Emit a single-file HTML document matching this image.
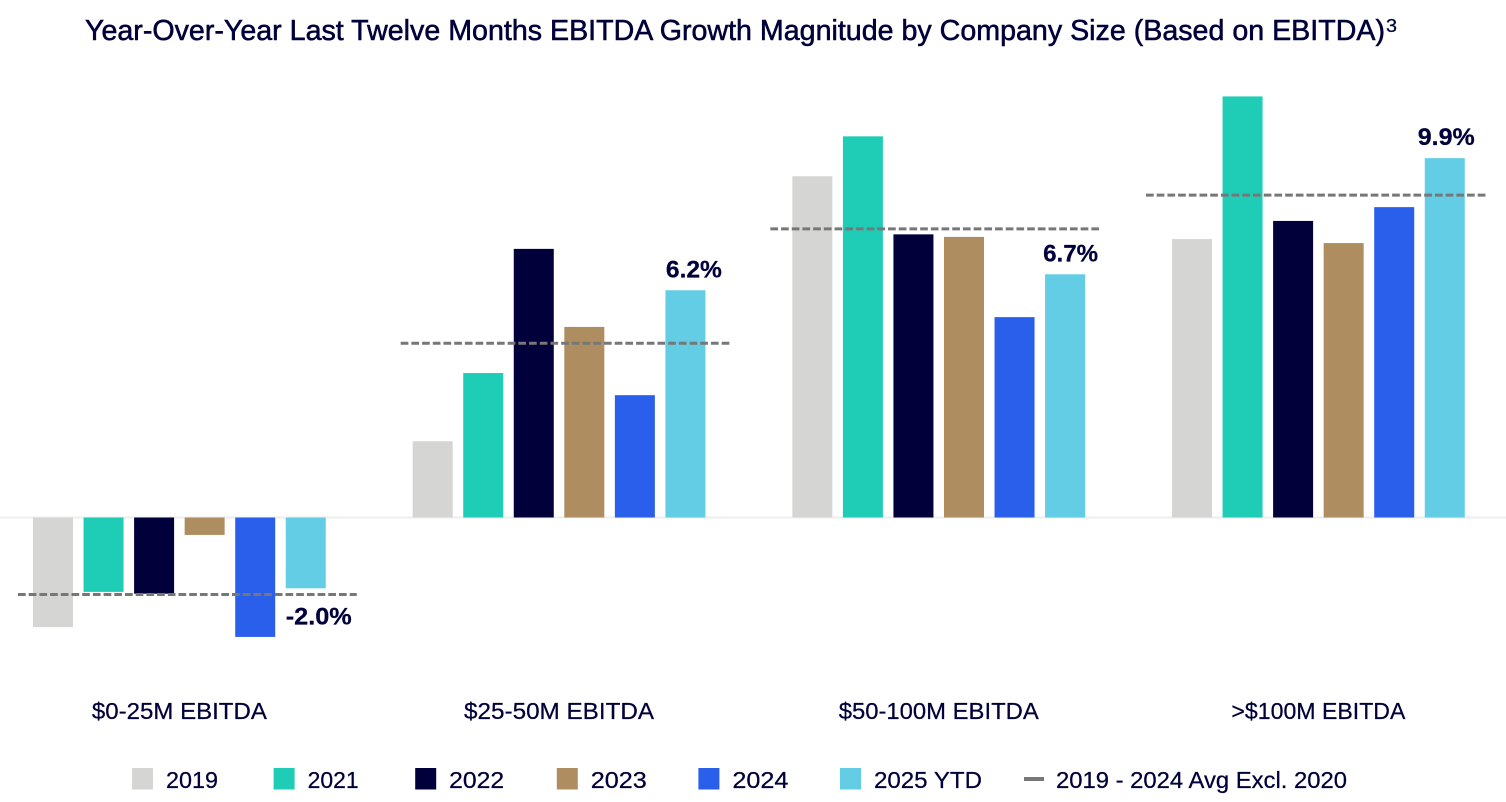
<!DOCTYPE html>
<html lang="en">
<head>
<meta charset="utf-8">
<title>EBITDA Growth Magnitude by Company Size</title>
<style>
  html, body { margin: 0; padding: 0; background: #ffffff; }
  body { width: 1506px; height: 802px; overflow: hidden; }
  svg { display: block; filter: blur(0.35px); }
  text { font-family: "Liberation Sans", sans-serif; fill: #01003a; stroke: #01003a; stroke-width: 0.25px; }
  text.title { stroke-width: 0.55px; }
</style>
</head>
<body>
<svg id="chart" width="1506" height="802" viewBox="0 0 1506 802" xmlns="http://www.w3.org/2000/svg">
  <text class="title" x="85" y="40" font-size="28.5" textLength="1300" lengthAdjust="spacingAndGlyphs">Year-Over-Year Last Twelve Months EBITDA Growth Magnitude by Company Size (Based on EBITDA)</text>
  <text x="1386" y="32" font-size="18" textLength="11" lengthAdjust="spacingAndGlyphs">3</text>
</svg>
<script>
const categories = ["$0-25M EBITDA", "$25-50M EBITDA", "$50-100M EBITDA", ">$100M EBITDA"];
const seriesNames = ["2019", "2021", "2022", "2023", "2024", "2025 YTD"];
const seriesColors = ["#d5d5d3", "#1fcdb6", "#01003a", "#ae8e60", "#2a5fec", "#62cde4"];
const values2019 = [-3.02, 2.1, 9.4, 7.67];
const values2021 = [-2.05, 3.98, 10.5, 11.6];
const values2022 = [-2.1, 7.4, 7.8, 8.17];
const values2023 = [-0.48, 5.25, 7.73, 7.56];
const values2024 = [-3.29, 3.37, 5.52, 8.55];
const values2025 = [-1.95, 6.26, 6.7, 9.9];
const averages = [-2.12, 4.8, 7.95, 8.88];
const printedLabels = ["-2.0%", "6.2%", "6.7%", "9.9%"];
const avgLegendLabel = "2019 - 2024 Avg Excl. 2020";

const allSeries = [values2019, values2021, values2022, values2023, values2024, values2025];
const svg = document.getElementById("chart");
const NS = "http://www.w3.org/2000/svg";

function make(tag, attrs, text) {
  const node = document.createElementNS(NS, tag);
  for (const key in attrs) node.setAttribute(key, attrs[key]);
  if (text !== undefined) node.textContent = text;
  svg.appendChild(node);
  return node;
}

function yScale(v) { return 517.5 - v * 36.3; }
function groupLeft(i) { return 33 + i * 379.67; }
function barLeft(i, s) { return groupLeft(i) + s * 50.55; }
function groupCenter(i) { return groupLeft(i) + 146.4; }

function draw() {
  const barWidth = 40;
  const zero = make("line", { x1: 0, x2: 1506, y1: yScale(0), y2: yScale(0), stroke: "#eeeeee", "stroke-width": 2 });
  
  

  allSeries.forEach(function (vals, s) {
    vals.forEach(function (v, i) {
      const top = Math.min(yScale(v), yScale(0));
      const h = Math.abs(yScale(v) - yScale(0));
      const bar = make("rect", { x: barLeft(i, s), y: top, width: barWidth, height: h, fill: seriesColors[s] });
      
      
    });
  });

  const overhangLeft = [15, 12, 22, 26];
  const overhangRight = [31, 25, 15, 21];
  averages.forEach(function (v, i) {
    const right = barLeft(i, 5) + barWidth;
    const line = make("line", {
      x1: groupLeft(i) - overhangLeft[i], x2: right + overhangRight[i],
      y1: yScale(v), y2: yScale(v),
      stroke: "#777777", "stroke-width": 3, "stroke-dasharray": "7.7 3"
    });
    
    
  });

  const labelShift = [0, 0.5, -2, -7];
  const labelWidth = [66, 56, 55, 57];
  printedLabels.forEach(function (label, i) {
    const v = values2025[i];
    const baseline = v < 0 ? yScale(v) + 36 : yScale(v) - 13;
    const t = make("text", { x: barLeft(i, 5) + labelShift[i], y: baseline, "font-size": 24, "font-weight": "bold", textLength: labelWidth[i], lengthAdjust: "spacingAndGlyphs" }, label);
    
    
  });

  const categoryWidth = [175, 190, 200, 174];
  categories.forEach(function (name, i) {
    const t = make("text", { x: groupCenter(i), y: 719, "font-size": 23.5, "text-anchor": "middle", textLength: categoryWidth[i], lengthAdjust: "spacingAndGlyphs" }, name);
    
    
  });

  const legendWidth = [52, 51, 55, 56, 56, 108];
  seriesNames.forEach(function (name, s) {
    const x = 132 + s * 141.6;
    const swatch = make("rect", { x: x, y: 768, width: 21, height: 21.5, fill: seriesColors[s] });
    
    
    const t = make("text", { x: x + 34, y: 788, "font-size": 23.5, textLength: legendWidth[s], lengthAdjust: "spacingAndGlyphs" }, name);
    
    
  });

  const keyLine = make("rect", { x: 1024, y: 777, width: 20, height: 4, fill: "#777777" });
  
  
  const keyText = make("text", { x: 1056, y: 788, "font-size": 23, textLength: 291, lengthAdjust: "spacingAndGlyphs" }, avgLegendLabel);
  
  
}

draw();
</script>
</body>
</html>
